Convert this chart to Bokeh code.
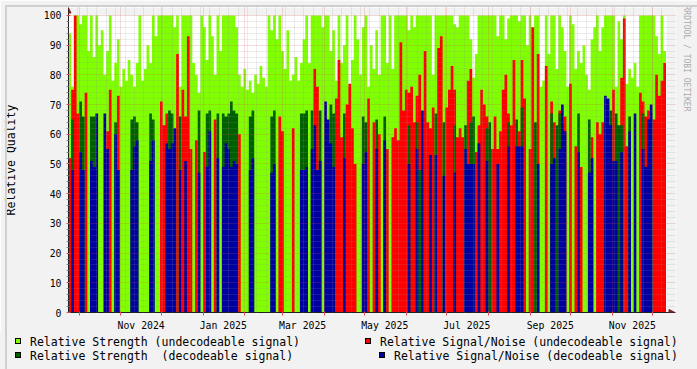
import datetime as dt
import html

from bokeh.plotting import figure
from bokeh.layouts import column
from bokeh.models import (Range1d, FixedTicker, Arrow, NormalHead, DatetimeTickFormatter,
                          BoxAnnotation, Title, Div)
from bokeh.embed import file_html
from bokeh.resources import INLINE

# ---------------------------------------------------------------- data
START = dt.datetime(2024, 9, 23)   # first sample (left edge of graph)
SLOT_DAYS = 2                      # one value every two days

# Relative Strength (undecodeable signal)   - light green area
strength_undecodeable = [
    94, 76, 100, 100, 97, 100, 100, 88, 100, 86,      # 0
    100, 90, 95, 80, 88, 100, 78, 84, 92, 76,         # 10
    82, 78, 85, 80, 76, 84, 100, 78, 82, 90,          # 20
    84, 100, 93, 100, 100, 100, 100, 100, 100, 96,    # 30
    100, 76, 100, 100, 100, 100, 84, 80, 74, 100,     # 40
    96, 85, 100, 93, 80, 100, 88, 100, 100, 100,      # 50
    100, 100, 96, 80, 76, 82, 75, 78, 74, 80,         # 60
    77, 83, 79, 76, 100, 95, 100, 92, 100, 88,        # 70
    82, 95, 78, 80, 86, 78, 84, 92, 100, 84,          # 80
    100, 100, 100, 100, 96, 100, 100, 88, 95, 78,     # 90
    100, 84, 90, 100, 76, 85, 100, 92, 80, 96,        # 100
    100, 76, 90, 82, 95, 80, 100, 100, 84, 100,       # 110
    82, 100, 100, 100, 100, 100, 95, 100, 96, 100,    # 120
    100, 100, 100, 100, 100, 80, 100, 100, 100, 100,  # 130
    100, 100, 100, 97, 96, 100, 100, 100, 100, 92,    # 140
    79, 87, 100, 100, 100, 100, 100, 100, 100, 93,    # 150
    100, 100, 92, 99, 100, 100, 100, 98, 100, 100,    # 160
    90, 100, 96, 100, 100, 76, 78, 100, 87, 100,      # 170
    100, 82, 100, 96, 88, 76, 100, 97, 82, 88,        # 180
    84, 90, 80, 75, 92, 96, 100, 88, 96, 100,         # 190
    100, 100, 100, 76, 98, 92, 100, 77, 82, 79,       # 200
    84, 76, 100, 100, 100, 100, 100, 100, 93, 87,     # 210
    100, 88,                                          # 220
]

# Relative Signal/Noise (undecodeable signal)  - red area (0 = no value)
snr_undecodeable = [
    52, 75, 100, 67, 0, 0, 74, 0, 0, 0,
    0, 0, 0, 0, 61, 75, 0, 0, 73, 0,
    0, 0, 0, 0, 0, 0, 0, 0, 0, 0,
    0, 0, 0, 0, 71, 63, 67, 0, 0, 0,
    87, 0, 75, 66, 93, 55, 0, 58, 0, 0,
    54, 0, 0, 0, 65, 0, 0, 0, 0, 0,
    0, 0, 0, 60, 0, 0, 0, 0, 0, 0,
    0, 0, 0, 0, 0, 0, 0, 0, 66, 61,
    0, 0, 0, 62, 0, 0, 0, 0, 0, 0,
    0, 82, 76, 0, 0, 0, 0, 0, 59, 72,
    85, 59, 0, 70, 77, 62, 50, 0, 0, 0,
    0, 72, 0, 64, 0, 60, 0, 0, 55, 0,
    59, 62, 58, 91, 68, 75, 74, 76, 64, 73,
    80, 0, 88, 64, 62, 69, 0, 89, 93, 0,
    69, 75, 83, 75, 59, 62, 59, 0, 78, 82,
    0, 54, 63, 75, 70, 66, 0, 55, 66, 55,
    61, 75, 80, 67, 63, 85, 0, 61, 85, 72,
    0, 55, 96, 0, 87, 0, 0, 83, 0, 71,
    64, 0, 68, 0, 66, 0, 77, 0, 56, 0,
    49, 0, 0, 0, 59, 0, 64, 60, 64, 0,
    0, 0, 75, 0, 0, 79, 99, 56, 0, 0,
    0, 0, 74, 71, 66, 68, 0, 65, 80, 73,
    78, 84,
]

# Relative Strength (decodeable signal)  - dark green area
strength_decodeable = [
    0, 65, 0, 0, 71, 66, 0, 0, 66, 66,
    0, 0, 0, 0, 0, 0, 0, 64, 0, 0,
    0, 0, 0, 65, 66, 64, 0, 0, 0, 0,
    67, 65, 0, 0, 0, 0, 0, 68, 67, 0,
    0, 66, 0, 0, 0, 0, 0, 0, 68, 0,
    0, 67, 68, 0, 0, 67, 0, 67, 66, 67,
    71, 68, 67, 0, 0, 0, 0, 66, 68, 0,
    0, 0, 0, 0, 0, 66, 68, 0, 0, 0,
    0, 0, 0, 0, 0, 0, 67, 67, 68, 0,
    68, 0, 0, 68, 0, 0, 0, 70, 67, 0,
    0, 0, 67, 0, 0, 0, 0, 0, 0, 66,
    64, 0, 0, 0, 65, 0, 0, 66, 0, 0,
    0, 0, 0, 0, 0, 0, 63, 0, 0, 64,
    48, 0, 0, 0, 0, 0, 67, 0, 0, 64,
    0, 0, 0, 63, 0, 0, 0, 63, 0, 64,
    66, 0, 0, 0, 0, 62, 64, 0, 0, 0,
    0, 0, 0, 64, 0, 0, 65, 0, 69, 0,
    0, 0, 0, 64, 0, 0, 0, 0, 0, 67,
    0, 63, 67, 64, 0, 0, 0, 0, 0, 67,
    0, 0, 0, 65, 0, 0, 0, 0, 0, 0,
    0, 68, 0, 67, 63, 63, 0, 0, 66, 0,
    0, 0, 0, 67, 0, 64, 67, 0, 0, 0,
    0, 0,
]

# Relative Signal/Noise (decodeable signal)  - blue area
snr_decodeable = [
    0, 48, 0, 0, 54, 48, 0, 0, 51, 49,
    67, 0, 0, 67, 55, 0, 0, 60, 48, 0,
    0, 0, 0, 48, 56, 58, 0, 0, 0, 0,
    51, 58, 0, 0, 0, 0, 57, 55, 57, 62,
    0, 48, 0, 51, 0, 0, 0, 0, 47, 0,
    0, 49, 61, 0, 0, 52, 0, 49, 57, 55,
    49, 51, 50, 0, 0, 0, 0, 48, 52, 0,
    0, 0, 0, 0, 0, 47, 50, 0, 0, 0,
    0, 0, 0, 0, 0, 0, 48, 48, 49, 0,
    55, 63, 48, 51, 0, 71, 65, 57, 49, 0,
    0, 0, 52, 0, 0, 0, 0, 0, 0, 50,
    54, 0, 0, 0, 55, 0, 0, 58, 0, 0,
    0, 0, 0, 0, 0, 0, 50, 0, 0, 55,
    0, 68, 0, 0, 53, 0, 53, 0, 0, 46,
    0, 0, 0, 47, 0, 0, 0, 55, 50, 50,
    50, 0, 57, 0, 0, 51, 0, 0, 0, 50,
    0, 0, 0, 56, 0, 0, 56, 56, 56, 0,
    0, 0, 0, 0, 50, 0, 0, 0, 0, 50,
    52, 0, 55, 70, 61, 0, 0, 0, 0, 54,
    0, 0, 0, 47, 52, 0, 0, 0, 0, 73,
    72, 63, 51, 51, 0, 54, 0, 0, 61, 0,
    67, 0, 0, 55, 49, 65, 70, 0, 0, 0,
    0, 0,
]

x_label_months = [(2024, 11), (2025, 1), (2025, 3), (2025, 5), (2025, 7), (2025, 9), (2025, 11)]
y_major_ticks = [0, 10, 20, 30, 40, 50, 60, 70, 80, 90, 100]

series_labels = [
    "Relative Strength (undecodeable signal)",
    "Relative Signal/Noise (undecodeable signal)",
    "Relative Strength  (decodeable signal)",
    "Relative Signal/Noise (decodeable signal)",
]
series_colors = ["#80FF00", "#FF0000", "#006000", "#0000A0"]

# ---------------------------------------------------------------- geometry / style
W, H = 697, 369
H_MAIN = 333                                           # graph part, legend below
PLOT_L, PLOT_R, PLOT_T, PLOT_B = 67, 666, 15, 315      # rrd canvas (white)
FRAME_R, FRAME_T = 675, 7                              # frame incl. axis arrows
PX_PER_DAY = (PLOT_R - PLOT_L) / 444.4
FONT = "DejaVu Sans Mono"
AXIS_COL = "#1F1F1F"
ARROW_COL = "#801F1F"
MGRID_COL = "#DE4F4F"
GRID_COL = "#8F8F8F"
BACK_COL = "#F2F2F2"

DAY_MS = 86400000.0
EPOCH = dt.datetime(1970, 1, 1)


def ms(d):
    return (d - EPOCH).total_seconds() * 1000.0


X0 = ms(START)


def px_x(px):
    return X0 + (px - PLOT_L) / PX_PER_DAY * DAY_MS


def px_y(py):
    return (PLOT_B - py) / (PLOT_B - PLOT_T) * 100.0


n = len(strength_undecodeable)
edges = [ms(START + dt.timedelta(days=SLOT_DAYS * i)) for i in range(n + 1)]

p = figure(width=W, height=H_MAIN, x_axis_type="datetime",
           x_range=Range1d(X0, px_x(FRAME_R)), y_range=Range1d(0, px_y(FRAME_T)),
           output_backend="svg", toolbar_location=None, tools="",
           min_border_left=PLOT_L, min_border_right=W - FRAME_R,
           min_border_top=FRAME_T, min_border_bottom=H_MAIN - PLOT_B,
           background_fill_color="white", border_fill_color=BACK_COL,
           outline_line_color=None)

# grey strips where the rrd canvas ends (axis arrows live there)
p.add_layout(BoxAnnotation(left=px_x(PLOT_R), fill_color=BACK_COL, fill_alpha=1,
                           line_alpha=0, level="underlay"))
p.add_layout(BoxAnnotation(bottom=100, fill_color=BACK_COL, fill_alpha=1,
                           line_alpha=0, level="underlay"))

# data areas, drawn in RRD order
for vals, col in zip([strength_undecodeable, snr_undecodeable, strength_decodeable, snr_decodeable],
                     series_colors):
    p.varea_step(x=edges, y1=[0] * (n + 1), y2=list(vals) + [vals[-1]],
                 step_mode="after", fill_color=col)

# ---------------------------------------------------------------- axes
month_starts = []
y, m = 2024, 10
while (y, m) <= (2025, 12):
    month_starts.append(ms(dt.datetime(y, m, 1)))
    m += 1
    if m > 12:
        y, m = y + 1, 1
label_ticks = [ms(dt.datetime(yy, mm, 16)) for yy, mm in x_label_months]
mondays = [ms(START + dt.timedelta(days=7 * k)) for k in range(1, 64)]
y_minor = [v for v in range(2, 100, 2) if v % 10]

xa = p.xaxis[0]
xa.ticker = FixedTicker(ticks=label_ticks, minor_ticks=month_starts)
fmt = "%b %Y"
xa.formatter = DatetimeTickFormatter(microseconds=fmt, milliseconds=fmt, seconds=fmt,
                                     minsec=fmt, minutes=fmt, hourmin=fmt, hours=fmt,
                                     days=fmt, months=fmt, years=fmt)
xa.major_tick_line_color = None
xa.major_tick_in = 0
xa.major_tick_out = 0
xa.minor_tick_line_color = MGRID_COL
xa.minor_tick_in = 1
xa.minor_tick_out = 3
xa.major_label_standoff = 4
xa.axis_line_color = AXIS_COL
xa.major_label_text_font = FONT
xa.major_label_text_font_size = "9.8px"
xa.major_label_text_color = "black"

ya = p.yaxis[0]
ya.ticker = FixedTicker(ticks=y_major_ticks, minor_ticks=y_minor)
ya.major_tick_line_color = MGRID_COL
ya.major_tick_in = 2
ya.major_tick_out = 2
ya.minor_tick_line_color = GRID_COL
ya.minor_tick_in = 0
ya.minor_tick_out = 2
ya.major_label_standoff = 5
ya.axis_line_color = AXIS_COL
ya.major_label_text_font = FONT
ya.major_label_text_font_size = "9.8px"
ya.major_label_text_color = "black"
ya.axis_label = "Relative Quality"
ya.axis_label_text_font = FONT
ya.axis_label_text_font_size = "11.5px"
ya.axis_label_text_font_style = "normal"
ya.axis_label_text_color = "black"
ya.axis_label_standoff = 23

p.xgrid.ticker = FixedTicker(ticks=month_starts, minor_ticks=mondays)
p.ygrid.ticker = FixedTicker(ticks=y_major_ticks[1:], minor_ticks=y_minor)
p.xgrid.bounds = (0, 100)
p.ygrid.bounds = (X0, px_x(PLOT_R))
for g in (p.xgrid[0], p.ygrid[0]):
    g.grid_line_color = MGRID_COL
    g.grid_line_alpha = 0.4
    g.grid_line_dash = "1 1"
    g.minor_grid_line_color = GRID_COL
    g.minor_grid_line_alpha = 0.35
    g.minor_grid_line_dash = "1 1"
    g.level = "overlay"

# axis arrow heads
p.add_layout(Arrow(x_start=px_x(667), y_start=0, x_end=px_x(674.5), y_end=0, line_alpha=0,
                   end=NormalHead(size=6, fill_color=ARROW_COL, line_color=ARROW_COL)))
p.add_layout(Arrow(x_start=X0, y_start=px_y(14), x_end=X0, y_end=px_y(7.5), line_alpha=0,
                   end=NormalHead(size=5, fill_color=ARROW_COL, line_color=ARROW_COL)))

# watermark on the right
p.add_layout(Title(text="RRDTOOL / TOBI OETIKER", align="left", vertical_align="middle",
                   offset=-2, standoff=10, text_font=FONT, text_font_size="8px",
                   text_font_style="normal", text_color="#AAAAAA"), "right")

# ---------------------------------------------------------------- legend strip (rrdtool style)
H_LEG = H - H_MAIN
row_centre = [341, 341, 355, 355]          # image pixel rows
box_left = [15, 365, 15, 379]
text_left = [30, 380, 30, 394]

parts = []
for lab, col, rc, bx, tx in zip(series_labels, series_colors, row_centre, box_left, text_left):
    top = rc - H_MAIN
    parts.append(
        f'<span style="position:absolute;left:{bx}px;top:{top - 3}px;width:6px;height:6px;'
        f'border:1px solid #000;background:{col};"></span>')
    parts.append(
        f'<span style="position:absolute;left:{tx}px;top:{top - 6}px;height:14px;'
        f'line-height:14px;white-space:pre;">{html.escape(lab)}</span>')

legend_html = (
    f'<div style="position:relative;width:{W}px;height:{H_LEG}px;background:{BACK_COL};'
    f"font-family:'{FONT}',monospace;font-size:11.5px;color:#000;overflow:hidden;\">"
    + "".join(parts) + "</div>")

leg = Div(text=legend_html, width=W, height=H_LEG,
          styles={"margin": "0", "padding": "0", "background-color": BACK_COL})

# 3-D frame around the whole image (rrdtool shade A / shade B)
frame = Div(text="", width=W, height=H,
            styles={"position": "absolute", "top": "0px", "left": "0px",
                    "box-sizing": "border-box", "pointer-events": "none",
                    "border-top": "2px solid #CFCFCF", "border-left": "2px solid #CFCFCF",
                    "border-right": "2px solid #9E9E9E", "border-bottom": "2px solid #9E9E9E",
                    "background": "transparent", "z-index": "10"})

open("out.html", "w").write(file_html(column(p, leg, frame, spacing=0), INLINE))
